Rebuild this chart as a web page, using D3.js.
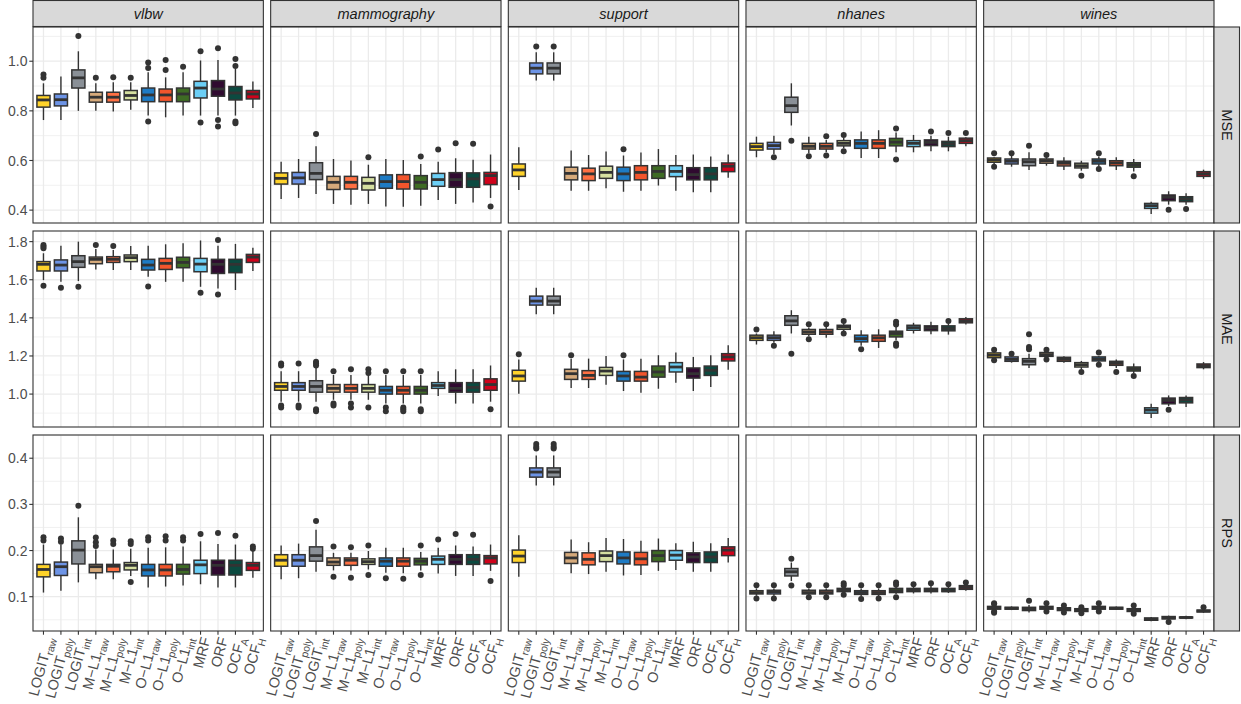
<!DOCTYPE html>
<html>
<head>
<meta charset="utf-8">
<style>
  body { margin: 0; background: #fff; }
  text { font-family: "Liberation Sans", Arial, sans-serif; }
</style>
</head>
<body>
<script src="https://cdn.jsdelivr.net/npm/d3@7"></script>
<script>
// ---- data ----------------------------------------------------------------
const datasets = ["vlbw", "mammography", "support", "nhanes", "wines"];
const metrics = ["MSE", "MAE", "RPS"];
const methods = ["LOGITraw", "LOGITpoly", "LOGITint", "ML1raw", "ML1poly", "ML1int",
                 "OL1raw", "OL1poly", "OL1int", "MRF", "ORF", "OCFA", "OCFH"];
const labelBase = ["LOGIT", "LOGIT", "LOGIT", "M\u2212L1", "M\u2212L1", "M\u2212L1",
                   "O\u2212L1", "O\u2212L1", "O\u2212L1", "MRF", "ORF", "OCF", "OCF"];
const labelSub = ["raw", "poly", "int", "raw", "poly", "int", "raw", "poly", "int", "", "", "A", "H"];
const fills = ["#FFD32A", "#6D94E6", "#8A9097", "#D6AA7B", "#FF7043", "#D6E0A0",
               "#1E7BC4", "#F2552C", "#3E6B24", "#6CCFF6", "#300A30", "#0B4A40", "#D0021B"];

// each box: [lower whisker, q1, median, q3, upper whisker]
const mseVlbw = [[0.763,0.815,0.844,0.862,0.911],[0.763,0.820,0.845,0.868,0.938],[0.800,0.892,0.933,0.965,1.040],
  [0.800,0.835,0.855,0.875,0.911],[0.797,0.835,0.855,0.875,0.915],[0.804,0.844,0.862,0.882,0.915],
  [0.781,0.837,0.864,0.892,0.956],[0.774,0.837,0.864,0.888,0.935],[0.781,0.837,0.868,0.892,0.956],
  [0.781,0.852,0.892,0.919,1.003],[0.781,0.859,0.888,0.922,1.005],[0.781,0.844,0.872,0.898,0.969],
  [0.812,0.848,0.868,0.882,0.918]];
const mseVlbwOut = [[0.946,0.933],[],[1.102],[0.933],[0.935],[0.933],[0.995,0.973,0.757],[1.005,0.965],
  [0.978],[1.040,0.753],[1.052,0.763,0.737],[1.009,0.981,0.757,0.750],[]];
const mseMammo = [[0.445,0.505,0.528,0.550,0.595],[0.449,0.505,0.530,0.552,0.606],[0.465,0.523,0.548,0.591,0.657],
  [0.425,0.483,0.512,0.536,0.606],[0.422,0.485,0.512,0.536,0.600],[0.425,0.481,0.508,0.532,0.583],
  [0.415,0.488,0.515,0.542,0.606],[0.414,0.485,0.515,0.543,0.602],[0.418,0.485,0.512,0.539,0.586],
  [0.441,0.496,0.523,0.548,0.595],[0.425,0.492,0.523,0.551,0.609],[0.431,0.492,0.526,0.550,0.603],
  [0.449,0.503,0.539,0.552,0.624]];
const mseMammoOut = [[],[],[0.707],[],[],[0.613],[],[],[0.616],[0.644],[0.669],[0.667],[0.415]];
const mseSupport = [[0.481,0.536,0.562,0.586,0.653],[0.922,0.949,0.972,0.993,1.036],[0.922,0.949,0.972,0.993,1.036],
  [0.478,0.522,0.548,0.573,0.640],[0.478,0.519,0.546,0.569,0.622],[0.488,0.528,0.552,0.577,0.636],
  [0.474,0.519,0.546,0.573,0.620],[0.478,0.522,0.552,0.579,0.632],[0.499,0.528,0.556,0.579,0.646],
  [0.478,0.535,0.556,0.579,0.622],[0.472,0.522,0.543,0.571,0.624],[0.472,0.522,0.546,0.571,0.616],
  [0.530,0.555,0.577,0.590,0.624]];
const mseSupportOut = [[],[1.059],[1.059],[],[],[],[0.645],[],[],[],[],[],[]];
const mseNhanes = [[0.613,0.642,0.656,0.669,0.696],[0.626,0.646,0.660,0.673,0.700],[0.741,0.794,0.821,0.855,0.911],
  [0.629,0.646,0.657,0.669,0.696],[0.633,0.646,0.657,0.669,0.683],[0.649,0.659,0.669,0.680,0.691],
  [0.610,0.649,0.669,0.683,0.717],[0.610,0.649,0.669,0.683,0.722],[0.633,0.659,0.674,0.689,0.713],
  [0.633,0.656,0.669,0.680,0.703],[0.637,0.660,0.673,0.683,0.700],[0.637,0.656,0.667,0.677,0.696],
  [0.657,0.669,0.680,0.690,0.694]];
const mseNhanesOut = [[],[0.613],[0.680],[0.617],[0.698,0.620],[0.703,0.637],[],[],[0.729,0.604],[],[0.717],[0.711],[0.711]];
const mseWines = [[0.586,0.593,0.602,0.610,0.613],[0.575,0.586,0.597,0.606,0.620],[0.562,0.579,0.595,0.606,0.633],
  [0.579,0.589,0.599,0.606,0.613],[0.562,0.578,0.589,0.597,0.613],[0.559,0.570,0.579,0.589,0.599],
  [0.577,0.586,0.597,0.606,0.616],[0.562,0.579,0.590,0.599,0.613],[0.556,0.573,0.582,0.591,0.606],
  [0.384,0.407,0.418,0.427,0.434],[0.422,0.438,0.452,0.461,0.476],[0.422,0.434,0.445,0.454,0.468],
  [0.526,0.536,0.546,0.555,0.563]];
const mseWinesOut = [[0.629,0.575],[0.629],[0.659],[0.622],[],[0.539],[0.629,0.566],[],[0.536],[],[0.401],[0.405],[]];

const maeVlbw = [[1.598,1.646,1.681,1.695,1.739],[1.589,1.646,1.677,1.704,1.779],[1.593,1.665,1.695,1.726,1.800],
  [1.654,1.684,1.707,1.719,1.761],[1.651,1.691,1.707,1.721,1.756],[1.651,1.695,1.716,1.730,1.777],
  [1.616,1.651,1.677,1.707,1.779],[1.589,1.654,1.686,1.712,1.786],[1.589,1.663,1.691,1.718,1.791],
  [1.563,1.642,1.682,1.712,1.806],[1.554,1.633,1.681,1.707,1.779],[1.546,1.637,1.681,1.707,1.788],
  [1.646,1.691,1.719,1.733,1.768]];
const maeVlbwOut = [[1.782,1.774,1.765,1.568],[1.558],[1.563],[1.782],[1.777],[],[1.565],[],[],[1.532],[1.809,1.523],[],[]];
const maeMammo = [[0.96,1.02,1.04,1.06,1.12],[0.96,1.02,1.04,1.06,1.12],[0.96,1.01,1.04,1.07,1.14],
  [0.97,1.01,1.03,1.05,1.10],[0.97,1.01,1.03,1.05,1.10],[0.97,1.01,1.03,1.05,1.10],
  [0.95,1.00,1.02,1.04,1.10],[0.95,1.00,1.02,1.04,1.10],[0.95,1.00,1.02,1.04,1.10],
  [0.99,1.03,1.045,1.06,1.12],[0.95,1.01,1.03,1.06,1.13],[0.95,1.01,1.035,1.06,1.13],
  [0.96,1.02,1.05,1.08,1.15]];
const maeMammoOut = [[1.16,1.15,0.94,0.93],[1.16,0.94,0.93],[1.17,1.16,1.15,0.92,0.91],[1.12,0.95,0.94],
  [1.13,0.95,0.93],[1.13,1.11,0.93],[1.12,0.93,0.91],[1.12,0.93,0.92,0.91],[1.12,0.92,0.91],[],[],[],[0.92]];
const maeSupport = [[1.002,1.068,1.095,1.125,1.182],[1.419,1.467,1.488,1.514,1.558],[1.419,1.467,1.488,1.514,1.558],
  [1.032,1.077,1.107,1.130,1.186],[1.032,1.077,1.098,1.123,1.186],[1.049,1.098,1.121,1.140,1.200],
  [1.016,1.068,1.095,1.119,1.182],[1.007,1.068,1.089,1.119,1.186],[1.028,1.089,1.116,1.147,1.204],
  [1.060,1.116,1.142,1.165,1.218],[1.016,1.084,1.107,1.137,1.195],[1.037,1.098,1.125,1.147,1.204],
  [1.128,1.174,1.195,1.212,1.256]];
const maeSupportOut = [[1.209],[],[],[1.204],[],[],[1.204],[],[],[],[],[],[]];
const maeNhanes = [[1.260,1.282,1.296,1.309,1.318],[1.270,1.282,1.296,1.309,1.330],[1.318,1.361,1.384,1.411,1.440],
  [1.304,1.314,1.326,1.339,1.349],[1.295,1.314,1.326,1.339,1.353],[1.330,1.340,1.353,1.361,1.375],
  [1.253,1.274,1.291,1.309,1.335],[1.242,1.277,1.295,1.309,1.340],[1.282,1.300,1.318,1.330,1.353],
  [1.318,1.335,1.349,1.361,1.374],[1.314,1.333,1.347,1.358,1.379],[1.312,1.332,1.344,1.358,1.370],
  [1.365,1.374,1.384,1.395,1.405]];
const maeNhanesOut = [[1.339],[1.253],[1.212],[1.367,1.288],[1.367],[1.384,1.318],[1.235],[],
  [1.379,1.365,1.265,1.253],[],[],[1.384],[]];
const maeWines = [[1.186,1.191,1.204,1.216,1.221],[1.165,1.172,1.182,1.195,1.198],[1.137,1.154,1.172,1.186,1.212],
  [1.189,1.198,1.207,1.218,1.225],[1.165,1.172,1.182,1.193,1.198],[1.130,1.142,1.154,1.165,1.174],
  [1.165,1.174,1.184,1.195,1.200],[1.137,1.151,1.161,1.172,1.181],[1.111,1.121,1.132,1.142,1.160],
  [0.874,0.900,0.916,0.928,0.949],[0.937,0.949,0.967,0.979,0.993],[0.932,0.954,0.970,0.982,0.993],
  [1.130,1.139,1.149,1.158,1.168]];
const maeWinesOut = [[1.233,1.177],[1.212],[1.314,1.247,1.235],[1.233,1.181],[],[1.116],[1.218,1.154],
  [1.116],[1.095],[],[0.918],[],[]];

const rpsVlbw = [[0.109,0.143,0.159,0.170,0.213],[0.113,0.146,0.165,0.175,0.213],[0.131,0.171,0.201,0.221,0.272],
  [0.138,0.152,0.165,0.170,0.202],[0.138,0.154,0.166,0.170,0.202],[0.145,0.158,0.168,0.174,0.204],
  [0.120,0.145,0.158,0.170,0.206],[0.122,0.145,0.158,0.170,0.207],[0.124,0.149,0.159,0.170,0.209],
  [0.127,0.150,0.169,0.179,0.220],[0.120,0.147,0.168,0.179,0.214],[0.120,0.147,0.168,0.179,0.213],
  [0.141,0.157,0.168,0.174,0.199]];
const rpsVlbwOut = [[0.229,0.222],[0.226,0.219],[0.297],[0.228,0.218,0.210],[0.222,0.214],[0.220,0.214,0.132],
  [0.229,0.222],[0.231,0.222],[0.229,0.222],[0.236],[0.238],[0.232],[0.209,0.204]];
const rpsMammo = [[0.138,0.166,0.179,0.191,0.211],[0.140,0.166,0.179,0.191,0.215],[0.154,0.177,0.189,0.208,0.245],
  [0.157,0.168,0.175,0.184,0.195],[0.157,0.168,0.179,0.184,0.195],[0.159,0.170,0.176,0.182,0.199],
  [0.152,0.166,0.177,0.184,0.206],[0.151,0.166,0.177,0.184,0.206],[0.157,0.169,0.177,0.183,0.197],
  [0.150,0.170,0.181,0.188,0.206],[0.145,0.170,0.181,0.191,0.211],[0.145,0.170,0.181,0.191,0.209],
  [0.156,0.171,0.184,0.189,0.213]];
const rpsMammoOut = [[],[],[0.264],[0.209,0.143],[0.207,0.141],[0.211,0.147],[0.140],[0.139],[0.211,0.147],
  [0.224],[0.236],[0.234],[0.134]];
const rpsSupport = [[0.143,0.174,0.188,0.201,0.233],[0.341,0.359,0.370,0.379,0.406],[0.341,0.359,0.370,0.379,0.406],
  [0.151,0.172,0.184,0.196,0.224],[0.149,0.169,0.181,0.195,0.218],[0.154,0.176,0.189,0.199,0.227],
  [0.146,0.171,0.184,0.197,0.225],[0.147,0.169,0.182,0.196,0.221],[0.156,0.176,0.189,0.200,0.226],
  [0.158,0.179,0.190,0.200,0.216],[0.154,0.174,0.186,0.195,0.219],[0.154,0.174,0.186,0.197,0.216],
  [0.174,0.189,0.201,0.208,0.227]];
const rpsSupportOut = [[],[0.431,0.425,0.421],[0.431,0.425,0.421],[],[],[],[],[],[],[],[],[],[]];
const rpsNhanes = [[0.102,0.106,0.109,0.113,0.118],[0.102,0.106,0.111,0.114,0.118],[0.134,0.145,0.154,0.161,0.174],
  [0.102,0.106,0.109,0.114,0.118],[0.102,0.106,0.109,0.114,0.118],[0.107,0.111,0.114,0.118,0.120],
  [0.101,0.105,0.109,0.113,0.118],[0.101,0.105,0.109,0.113,0.118],[0.106,0.109,0.113,0.118,0.121],
  [0.107,0.111,0.114,0.118,0.124],[0.107,0.111,0.114,0.118,0.124],[0.108,0.111,0.113,0.118,0.124],
  [0.113,0.116,0.120,0.124,0.127]];
const rpsNhanesOut = [[0.125,0.096],[0.125,0.096],[0.182,0.124],[0.125,0.099],[0.125,0.099],[0.129,0.124,0.104],
  [0.125,0.095],[0.125,0.096],[0.131,0.126,0.099],[0.127],[0.129],[0.127],[0.131]];
const rpsWines = [[0.070,0.073,0.076,0.079,0.081],[0.071,0.073,0.075,0.077,0.079],[0.066,0.070,0.074,0.077,0.082],
  [0.070,0.073,0.076,0.079,0.081],[0.068,0.070,0.073,0.076,0.078],[0.066,0.068,0.071,0.074,0.076],
  [0.070,0.073,0.076,0.079,0.081],[0.071,0.073,0.075,0.077,0.079],[0.065,0.068,0.071,0.074,0.077],
  [0.047,0.049,0.051,0.054,0.056],[0.049,0.052,0.054,0.057,0.059],[0.051,0.054,0.055,0.056,0.059],
  [0.065,0.067,0.069,0.071,0.074]];
const rpsWinesOut = [[0.086,0.084,0.068,0.065],[],[0.091],[0.086,0.068],[0.081,0.066],[0.077,0.064],[0.086,0.068],
  [],[0.081,0.063],[],[0.045],[],[0.077]];

const boxes = {
  MSE: [mseVlbw, mseMammo, mseSupport, mseNhanes, mseWines],
  MAE: [maeVlbw, maeMammo, maeSupport, maeNhanes, maeWines],
  RPS: [rpsVlbw, rpsMammo, rpsSupport, rpsNhanes, rpsWines]
};
const outliers = {
  MSE: [mseVlbwOut, mseMammoOut, mseSupportOut, mseNhanesOut, mseWinesOut],
  MAE: [maeVlbwOut, maeMammoOut, maeSupportOut, maeNhanesOut, maeWinesOut],
  RPS: [rpsVlbwOut, rpsMammoOut, rpsSupportOut, rpsNhanesOut, rpsWinesOut]
};

// ---- layout ----------------------------------------------------------------
const width = 1241, height = 704;
const marginLeft = 33, marginTop = 27, stripH = 26.5, stripW = 26;
const gapX = 7.3, gapY = 8;
const panelW = (1214 - marginLeft - 4 * gapX) / 5;
const panelH = (631 - marginTop - 2 * gapY) / 3;

const svg = d3.select("body").append("svg")
  .attr("width", width)
  .attr("height", height);

const x = d3.scalePoint()
  .domain(methods)
  .range([0, panelW])
  .padding(0.6);
const boxW = x.step() * 0.75;

metrics.forEach((metric, r) => {
  // shared y scale per row, ggplot style 5% expansion
  let all = [];
  boxes[metric].forEach((ds, c) => {
    ds.forEach((b, i) => { all.push(b[0], b[4]); all = all.concat(outliers[metric][c][i]); });
  });
  let [mn, mx] = d3.extent(all);
  let pad = (mx - mn) * 0.05;
  let y = d3.scaleLinear().domain([mn - pad, mx + pad]).range([panelH, 0]);
  let ticks = y.ticks(5);
  let step = ticks[1] - ticks[0];
  let minor = d3.range(ticks[0] - step / 2, mx + pad, step).filter(v => v > mn - pad && v < mx + pad);

  datasets.forEach((ds, c) => {
    let g = svg.append("g")
      .attr("transform", `translate(${marginLeft + c * (panelW + gapX)}, ${marginTop + r * (panelH + gapY)})`);

    g.append("rect").attr("width", panelW).attr("height", panelH).attr("fill", "#fff");

    g.selectAll(".minor").data(minor).enter().append("line")
      .attr("x1", 0).attr("x2", panelW)
      .attr("y1", d => y(d)).attr("y2", d => y(d))
      .attr("stroke", "#EBEBEB").attr("stroke-width", 0.7);
    g.selectAll(".major").data(ticks).enter().append("line")
      .attr("x1", 0).attr("x2", panelW)
      .attr("y1", d => y(d)).attr("y2", d => y(d))
      .attr("stroke", "#EBEBEB").attr("stroke-width", 1.3);
    g.selectAll(".vgrid").data(methods).enter().append("line")
      .attr("x1", d => x(d)).attr("x2", d => x(d))
      .attr("y1", 0).attr("y2", panelH)
      .attr("stroke", "#EBEBEB").attr("stroke-width", 1.3);

    let stats = boxes[metric][c];
    let outs = outliers[metric][c];
    let cell = g.selectAll(".box").data(methods).enter().append("g")
      .attr("transform", d => `translate(${x(d)}, 0)`);
    cell.append("line")
      .attr("y1", (d, i) => y(stats[i][4])).attr("y2", (d, i) => y(stats[i][3]))
      .attr("stroke", "#333").attr("stroke-width", 1.4);
    cell.append("line")
      .attr("y1", (d, i) => y(stats[i][1])).attr("y2", (d, i) => y(stats[i][0]))
      .attr("stroke", "#333").attr("stroke-width", 1.4);
    cell.append("rect")
      .attr("x", -boxW / 2).attr("width", boxW)
      .attr("y", (d, i) => y(stats[i][3]))
      .attr("height", (d, i) => y(stats[i][1]) - y(stats[i][3]))
      .attr("fill", (d, i) => fills[i])
      .attr("stroke", "#333").attr("stroke-width", 1.5);
    cell.append("line")
      .attr("x1", -boxW / 2).attr("x2", boxW / 2)
      .attr("y1", (d, i) => y(stats[i][2])).attr("y2", (d, i) => y(stats[i][2]))
      .attr("stroke", "#333").attr("stroke-width", 2.8);
    cell.each(function (d, i) {
      d3.select(this).selectAll("circle").data(outs[i]).enter().append("circle")
        .attr("cy", v => y(v)).attr("r", 3).attr("fill", "#333");
    });

    g.append("rect").attr("width", panelW).attr("height", panelH)
      .attr("fill", "none").attr("stroke", "#333").attr("stroke-width", 1.1);

    // y axis on the first column
    if (c === 0) {
      let ya = g.selectAll(".ytick").data(ticks).enter().append("g")
        .attr("transform", d => `translate(0, ${y(d)})`);
      ya.append("line").attr("x1", -3.7).attr("x2", 0).attr("stroke", "#333").attr("stroke-width", 1.1);
      ya.append("text").attr("x", -5.5).attr("dy", "0.36em").attr("text-anchor", "end")
        .attr("font-size", 14).attr("fill", "#4D4D4D")
        .text(d => d3.format(".1f")(d));
    }
    // x axis on the last row
    if (r === metrics.length - 1) {
      let xa = g.selectAll(".xtick").data(methods).enter().append("g")
        .attr("transform", d => `translate(${x(d)}, ${panelH})`);
      xa.append("line").attr("y1", 0).attr("y2", 3.7).attr("stroke", "#333").attr("stroke-width", 1.1);
      let t = xa.append("text")
        .attr("transform", "translate(0, 5) rotate(-75)")
        .attr("text-anchor", "end").attr("dy", "0.72em")
        .attr("font-size", 14.5).attr("fill", "#4D4D4D");
      t.append("tspan").text((d, i) => labelBase[i]);
      t.append("tspan").attr("font-size", 10.5).attr("dy", "0.35em").text((d, i) => labelSub[i]);
    }
    // column strips
    if (r === 0) {
      svg.append("rect")
        .attr("x", marginLeft + c * (panelW + gapX)).attr("y", 0.5)
        .attr("width", panelW).attr("height", stripH - 0.5)
        .attr("fill", "#D9D9D9").attr("stroke", "#333").attr("stroke-width", 1.1);
      svg.append("text")
        .attr("x", marginLeft + c * (panelW + gapX) + panelW / 2).attr("y", stripH / 2 + 1)
        .attr("dy", "0.35em").attr("text-anchor", "middle")
        .attr("font-size", 14.5).attr("font-style", "italic").attr("fill", "#1A1A1A")
        .text(ds);
    }
  });

  // row strip
  let sy = marginTop + r * (panelH + gapY);
  svg.append("rect")
    .attr("x", 1214).attr("y", sy)
    .attr("width", stripW - 0.5).attr("height", panelH)
    .attr("fill", "#D9D9D9").attr("stroke", "#333").attr("stroke-width", 1.1);
  svg.append("text")
    .attr("transform", `translate(${1214 + stripW / 2}, ${sy + panelH / 2}) rotate(90)`)
    .attr("dy", "0.35em").attr("text-anchor", "middle")
    .attr("font-size", 14.5).attr("fill", "#1A1A1A")
    .text(metric);
});
</script>
</body>
</html>
